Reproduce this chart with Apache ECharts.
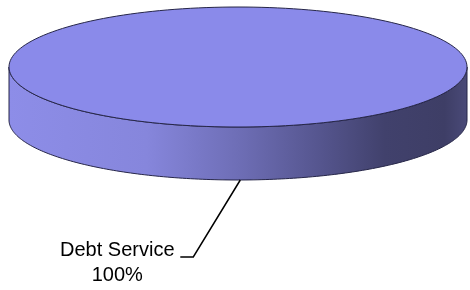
<!DOCTYPE html>
<html>
<head>
<meta charset="utf-8">
<script src="https://cdn.jsdelivr.net/npm/echarts@6/dist/echarts.min.js"></script>
<style>html,body{margin:0;padding:0;background:#fff;}#c{width:470px;height:290px;}</style>
</head>
<body>
<div id="c"></div>
<script>
const categories = ['Debt Service'];
const values = [100];
const labels = ['100%'];

const total = values.reduce((a, b) => a + b, 0);
const DEPTH = 0.883;
const chart = echarts.init(document.getElementById('c'), null, {renderer: 'canvas'});

function renderItem(params, api) {
  const idx = params.dataIndex;
  let start = 0;
  for (let i = 0; i < idx; i++) start += values[i] / total * Math.PI * 2;
  const frac = api.value(1) / total;
  const end = start - frac * Math.PI * 2;
  const full = frac >= 0.9999;
  const N = 180;
  const top = [];
  if (!full) top.push(api.coord([0, 0]));
  for (let k = 0; k <= N; k++) {
    const a = start + (end - start) * k / N;
    top.push(api.coord([Math.cos(a), Math.sin(a)]));
  }
  const sideTop = [], sideBot = [];
  for (let k = 0; k <= N; k++) {
    const a = Math.PI + Math.PI * k / N;
    sideTop.push(api.coord([Math.cos(a), Math.sin(a)]));
    sideBot.push(api.coord([Math.cos(a), Math.sin(a) - DEPTH]));
  }
  const side = sideTop.concat(sideBot.reverse());
  const mid = -Math.PI / 2;
  const anchor = api.coord([Math.cos(mid) + 0.01, Math.sin(mid) - DEPTH]);
  const p1 = [anchor[0] - 47, anchor[1] + 77];
  const p2 = [p1[0] - 13, p1[1]];
  return {
    type: 'group',
    children: [
      {
        type: 'polygon',
        shape: {points: side},
        style: {
          fill: new echarts.graphic.LinearGradient(0, 0, 1, 0, [
            {offset: 0, color: '#8d8de8'},
            {offset: 0.3, color: '#8686dc'},
            {offset: 0.5, color: '#6e6eb6'},
            {offset: 0.68, color: '#55558e'},
            {offset: 0.82, color: '#41416c'},
            {offset: 0.95, color: '#3e3e66'},
            {offset: 1, color: '#4a4a78'}
          ]),
          stroke: '#262648',
          lineWidth: 1
        }
      },
      {
        type: 'polygon',
        shape: {points: top},
        style: {fill: '#8a8aea', stroke: '#262648', lineWidth: 1}
      },
      {
        type: 'polyline',
        shape: {points: [anchor, p1, p2]},
        style: {stroke: '#000', lineWidth: 1.5, fill: null}
      },
      {
        type: 'text',
        style: {
          x: p2[0] - 63,
          y: p2[1] + 6,
          text: categories[idx] + '\n' + labels[idx],
          align: 'center',
          verticalAlign: 'middle',
          fontFamily: 'Liberation Sans',
          fontSize: 20,
          lineHeight: 25,
          fill: '#000'
        }
      }
    ]
  };
}

chart.setOption({
  animation: false,
  grid: {left: 9, right: 3, top: 7, bottom: 110},
  xAxis: {type: 'value', min: -1, max: 1, show: false},
  yAxis: {type: 'value', min: -1 - DEPTH, max: 1, show: false},
  series: [{
    type: 'custom',
    renderItem: renderItem,
    data: values.map((v, i) => [i, v])
  }]
});
</script>
</body>
</html>
